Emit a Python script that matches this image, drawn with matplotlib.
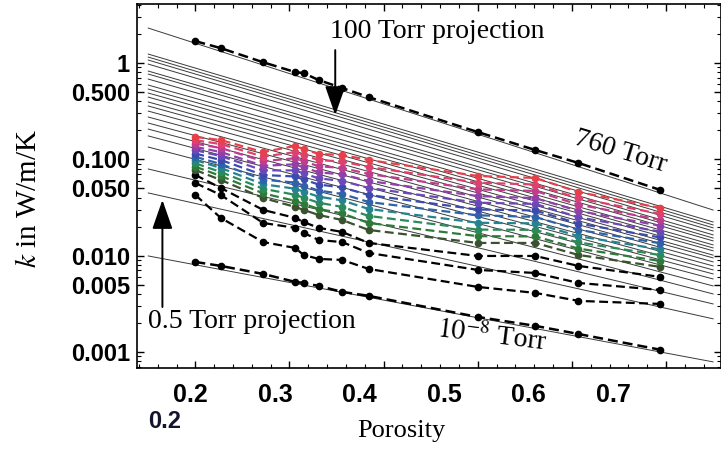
import numpy as np
import matplotlib.pyplot as plt
from matplotlib.ticker import FixedLocator, FixedFormatter, MultipleLocator, LogLocator, NullFormatter

plt.rcParams['mathtext.fontset'] = 'stix'

# porosity values of the measured samples
porosity = [0.200, 0.227, 0.272, 0.306, 0.315, 0.331, 0.356, 0.384, 0.500, 0.561, 0.607, 0.694]

# k (W/m/K) at 760 Torr and at 1e-8 Torr
k_760 = [1.69, 1.43, 1.02, 0.806, 0.787, 0.666, 0.550, 0.443, 0.192, 0.125, 0.0916, 0.048]
k_1e8 = [0.00858, 0.0078, 0.00644, 0.00532, 0.00519, 0.00483, 0.00419, 0.00381, 0.0023, 0.00186, 0.00153, 0.00105]

# intermediate pressures, 100 Torr (red) down to the dark ones
k_colored = [
    [0.1706, 0.1585, 0.119, 0.1375, 0.128, 0.1135, 0.111, 0.0984, 0.0671, 0.064, 0.0457, 0.0312],
    [0.1577, 0.144, 0.1067, 0.1188, 0.1106, 0.0982, 0.0949, 0.0832, 0.0572, 0.0547, 0.0393, 0.0271],
    [0.1456, 0.131, 0.0956, 0.1026, 0.0955, 0.0848, 0.0813, 0.0705, 0.0487, 0.0469, 0.0338, 0.0235],
    [0.1346, 0.119, 0.0857, 0.0887, 0.0826, 0.0733, 0.0696, 0.0596, 0.0415, 0.0395, 0.0291, 0.0204],
    [0.1245, 0.108, 0.0767, 0.0767, 0.0714, 0.0634, 0.0596, 0.0504, 0.0354, 0.0344, 0.0250, 0.0177],
    [0.1148, 0.0983, 0.0687, 0.0663, 0.0617, 0.0547, 0.0510, 0.0426, 0.0301, 0.0294, 0.0215, 0.0154],
    [0.1062, 0.0893, 0.0615, 0.0573, 0.0533, 0.0473, 0.0437, 0.0360, 0.0262, 0.0252, 0.0185, 0.0134],
    [0.0982, 0.0812, 0.0551, 0.0495, 0.0461, 0.0409, 0.0374, 0.0305, 0.0219, 0.0216, 0.0159, 0.0116],
    [0.0908, 0.0738, 0.0494, 0.0428, 0.0399, 0.0354, 0.0320, 0.0258, 0.0186, 0.0185, 0.0137, 0.0101],
    [0.0838, 0.0671, 0.0443, 0.0370, 0.0344, 0.0305, 0.0274, 0.0218, 0.0159, 0.0158, 0.0118, 0.00877],
    [0.0774, 0.061, 0.0397, 0.032, 0.0298, 0.0264, 0.0234, 0.01845, 0.01352, 0.01352, 0.01014, 0.00762],
]
colored_colors = ['#e8404a', '#e0406e', '#c03c8c', '#9040a8', '#6a48b8', '#3c4ab0',
                  '#2f62a8', '#23848f', '#2a8a5a', '#2e7a38', '#3a5230']

# lowest pressures (black dashed)
k_black = [
    [0.0687, 0.0504, 0.0298, 0.0246, 0.0223, 0.0194, 0.0176, 0.01352, 0.0099, 0.0099, 0.0078, 0.0060],
    [0.0567, 0.0426, 0.0218, 0.0194, 0.0172, 0.0145, 0.0138, 0.01064, 0.00709, 0.00659, 0.00519, 0.00439],
    [0.0426, 0.0246, 0.0138, 0.0120, 0.01014, 0.00922, 0.0090, 0.00726, 0.00472, 0.00409, 0.00338, 0.00314],
]

# model projections: k at porosity 0.15 and 0.75
proj_x = [0.15, 0.75]
proj_left = [2.31, 1.24, 1.154, 1.075, 0.976, 0.826, 0.769, 0.682, 0.591, 0.537, 0.488, 0.443,
             0.394, 0.358, 0.317, 0.275, 0.238, 0.206, 0.175, 0.134, 0.0793, 0.0447, 0.0099]
proj_right = [0.0297, 0.0223, 0.0208, 0.0194, 0.0180, 0.0164, 0.0152, 0.0142, 0.0129, 0.0120, 0.0112, 0.0101,
              0.00945, 0.00859, 0.00780, 0.00709, 0.00644, 0.00571, 0.00483, 0.00399, 0.00314, 0.00220, 0.000785]

y_ticks = [1, 0.5, 0.1, 0.05, 0.01, 0.005, 0.001]
y_ticklabels = ['1', '0.500', '0.100', '0.050', '0.010', '0.005', '0.001']
x_ticks = [0.2, 0.3, 0.4, 0.5, 0.6, 0.7]
x_ticklabels = ['0.2', '0.3', '0.4', '0.5', '0.6', '0.7']

fig = plt.figure(figsize=(7.21, 4.57), dpi=100)
ax = fig.add_axes([0.19, 0.195, 0.81, 0.796])
ax.set_yscale('log')
ax.set_xlim(0.138, 0.7584)
ax.set_ylim(0.00068, 4.1)

# gray projection lines
for a, b in zip(proj_left, proj_right):
    ax.plot(proj_x, [a, b], color='#3a3a3a', lw=0.7, zorder=1)

dash = (0, (4, 2))
ax.plot(porosity, k_760, color='k', lw=1.8, ls=dash, marker='o', ms=4.5, zorder=5)
ax.plot(porosity, k_1e8, color='k', lw=1.8, ls=dash, marker='o', ms=4.5, zorder=5)
for k in k_black:
    ax.plot(porosity, k, color='k', lw=1.6, ls=dash, marker='o', ms=4.5, zorder=3)
for k, c in reversed(list(zip(k_colored, colored_colors))):
    ax.plot(porosity, k, color=c, lw=1.6, ls=dash, marker='o', ms=4.5, zorder=4)

# annotations
serif = 'Liberation Serif'
ax.text(0.3433, 2.15, '100 Torr projection', fontsize=20, family=serif, ha='left', va='center')
ax.annotate('', xy=(0.3486, 0.288), xytext=(0.3486, 1.365),
            arrowprops=dict(arrowstyle='-|>,head_width=0.35,head_length=1.0', lw=1.4, color='k',
                            mutation_scale=18, shrinkA=0, shrinkB=0))
ax.text(0.150, 0.00204, '0.5 Torr projection', fontsize=20, family=serif, ha='left', va='center')
ax.annotate('', xy=(0.165, 0.0378), xytext=(0.165, 0.00292),
            arrowprops=dict(arrowstyle='-|>,head_width=0.35,head_length=1.0', lw=1.4, color='k',
                            mutation_scale=18, shrinkA=0, shrinkB=0))
ax.text(0.652, 0.119, '760 Torr', fontsize=20, family=serif, ha='center', va='center', rotation=-17)
ax.text(0.515, 0.00143, r'$10^{-8}$ Torr', fontsize=20, family=serif, ha='center', va='center', rotation=-7)

# axes styling
ax.yaxis.set_major_locator(FixedLocator(y_ticks))
ax.yaxis.set_major_formatter(FixedFormatter(y_ticklabels))
ax.yaxis.set_minor_locator(LogLocator(base=10, subs=np.arange(2, 10)))
ax.yaxis.set_minor_formatter(NullFormatter())
ax.xaxis.set_major_locator(MultipleLocator(0.1))
ax.xaxis.set_minor_locator(MultipleLocator(0.02))
ax.tick_params(which='both', direction='in', top=True, right=True, labelbottom=False)
ax.tick_params(which='major', length=5, width=1)
ax.tick_params(which='minor', length=3, width=0.8)
ax.tick_params(axis='y', pad=5)
for lab in ax.get_yticklabels():
    lab.set_fontfamily('Liberation Sans')
    lab.set_fontweight('bold')
    lab.set_fontsize(17)
for s in ax.spines.values():
    s.set_linewidth(1.2)

# x tick labels sit a little left of the tick marks in the original
def fwd(x):
    return (x - 0.1947) / 0.898 + 0.2

def inv(s):
    return (s - 0.2) * 0.898 + 0.1947

sec = ax.secondary_xaxis('bottom', functions=(fwd, inv))
sec.set_xticks(x_ticks)
sec.set_xticklabels(x_ticklabels)
sec.tick_params(length=0, pad=11)
sec.spines['bottom'].set_visible(False)
for lab in sec.get_xticklabels():
    lab.set_fontfamily('Liberation Sans')
    lab.set_fontweight('bold')
    lab.set_fontsize(18)

fig.text(0.229, 0.077, '0.2', fontsize=17, family='Liberation Sans', fontweight='bold',
         color='#14142e', ha='center', va='center')

ax.set_xlabel('Porosity', fontsize=19, family=serif)
ax.xaxis.set_label_coords(0.452, -0.143)
ax.set_ylabel(r'$k$ in W/m/K', fontsize=21, family=serif)
ax.yaxis.set_label_coords(-0.163, 0.467)

fig.savefig('out.png', dpi=100)
